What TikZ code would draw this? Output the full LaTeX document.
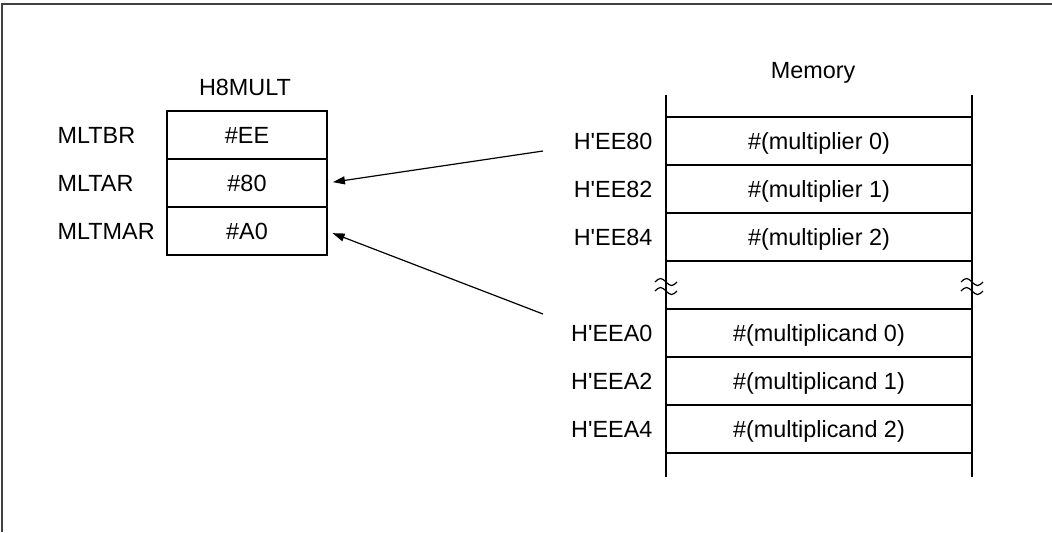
\documentclass[tikz,border=0pt]{standalone}
\usepackage{fontspec}
\setmainfont{Liberation Sans}
\usetikzlibrary{arrows.meta,calc}

\tikzset{
  txt/.style={inner sep=0pt, text height=8.4pt, text depth=0pt},
  regcell/.style={txt, draw, minimum width=80pt, minimum height=24pt, outer sep=0pt},
  memcell/.style={txt, draw, minimum width=153pt, minimum height=24pt, outer sep=0pt},
  ptr/.style={-{Triangle[length=6pt,width=4pt]}, shorten >=3pt},
}

\begin{document}
\begin{tikzpicture}[x=0.5pt, y=-0.5pt, line width=0.6pt,
    font=\fontsize{11.7}{14}\selectfont]
  \useasboundingbox (0,0) rectangle (1052,532);
  \draw[line width=0.8pt, black!75] (2,532) -- (2,4) -- (1052,4);

  % H8MULT registers
  \node[txt] (mult) at (245,87) {H8MULT};
  \node[regcell] (br)  at (247,135) {\#EE};
  \node[regcell] (ar)  at (247,183) {\#80};
  \node[regcell] (mar) at (247,231) {\#A0};
  \node[txt, anchor=west] (brname)  at (57,135) {MLTBR};
  \node[txt, anchor=west] (arname)  at (57,183) {MLTAR};
  \node[txt, anchor=west] (marname) at (57,231) {MLTMAR};

  % memory map
  \node[txt] (mem) at (813,70) {Memory};
  \draw (666,95) -- (666,477);
  \draw (972,95) -- (972,477);
  \node[memcell] (m0) at (819,141) {\#(multiplier 0)};
  \node[memcell] (m1) at (819,189) {\#(multiplier 1)};
  \node[memcell] (m2) at (819,237) {\#(multiplier 2)};
  \node[memcell] (c0) at (819,333) {\#(multiplicand 0)};
  \node[memcell] (c1) at (819,381) {\#(multiplicand 1)};
  \node[memcell] (c2) at (819,429) {\#(multiplicand 2)};
  \node[txt, anchor=east] (a80) at (653,141) {H\textquotesingle EE80};
  \node[txt, anchor=east] (a82) at (653,189) {H\textquotesingle EE82};
  \node[txt, anchor=east] (a84) at (653,237) {H\textquotesingle EE84};
  \node[txt, anchor=east] (aA0) at (653,333) {H\textquotesingle EEA0};
  \node[txt, anchor=east] (aA2) at (653,381) {H\textquotesingle EEA2};
  \node[txt, anchor=east] (aA4) at (653,429) {H\textquotesingle EEA4};

  % break marks
  \foreach \x in {666,972}
    \foreach \y in {282,291}
      \draw (\x-11,\y) sin (\x-5.5,\y-3.5) cos (\x,\y) sin (\x+5.5,\y+3.5) cos (\x+11,\y);

  \coordinate (from80) at (543,151);
  \coordinate (fromA0) at (543,314);
  \draw[ptr] (from80) -- (ar.east);
  \draw[ptr] (fromA0) -- (mar.east);
\end{tikzpicture}
\end{document}
